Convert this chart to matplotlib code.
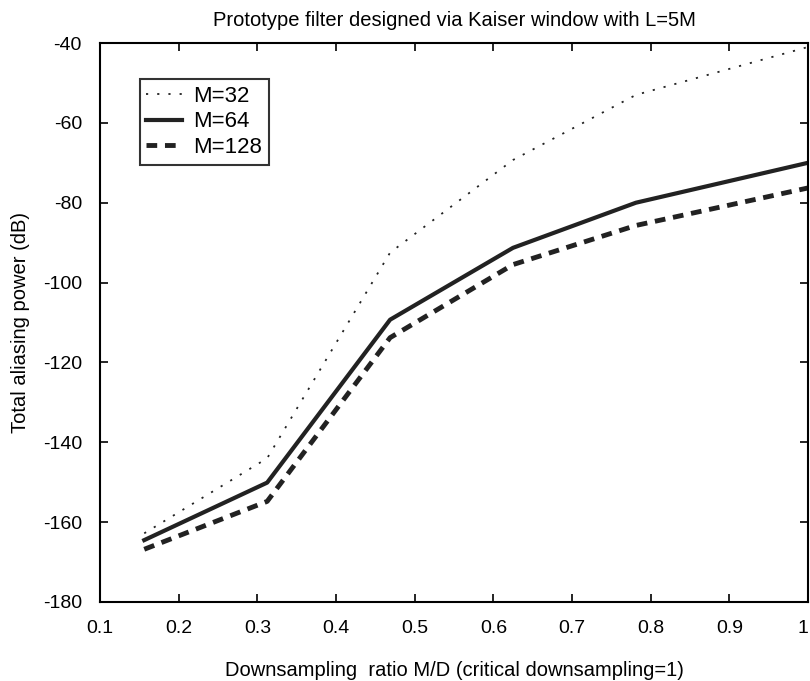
import numpy as np
import matplotlib
matplotlib.use('Agg')
import matplotlib.pyplot as plt

plt.rcParams['font.family'] = ['Liberation Sans', 'DejaVu Sans']
plt.rcParams['axes.unicode_minus'] = False

# M/D ratio
ratio = [0.15625, 0.3125, 0.46875, 0.625, 0.78125, 1.0]
# total aliasing power (dB)
m32 = [-162.8, -144, -92.5, -69.3, -53, -41]
m64 = [-164.5, -150.1, -109.3, -91.3, -80, -70]
m128 = [-166.8, -154.8, -113.8, -95.5, -85.7, -76.3]

xtick_labels = ['0.1', '0.2', '0.3', '0.4', '0.5', '0.6', '0.7', '0.8', '0.9', '1']

fig = plt.figure(figsize=(8.1, 6.81), dpi=100)
ax = fig.add_axes([100/810, 79/681, 708/810, 559/681])

ax.plot(ratio, m32, color='#222222', lw=1.3, ls=(0, (1.2, 5)), label='M=32')
ax.plot(ratio, m64, color='#222222', lw=3, ls='-', label='M=64')
ax.plot(ratio, m128, color='#222222', lw=3.5, ls=(0, (2.2, 1.6)), label='M=128')

ax.set_xlim(0.1, 1)
ax.set_ylim(-180, -40)
ax.set_xticks(np.arange(0.1, 1.01, 0.1))
ax.set_xticklabels(xtick_labels)
ax.set_yticks(np.arange(-180, -39, 20))
ax.tick_params(direction='in', top=True, right=True, length=6, width=1.2, labelsize=14)
ax.tick_params(axis='x', pad=13)
ax.tick_params(axis='y', pad=13)
# last label sits right on the figure edge, keep it inside
ax.get_xticklabels()[-1].set_horizontalalignment('right')
for s in ax.spines.values():
    s.set_linewidth(1.5)

ax.set_title('Prototype filter designed via Kaiser window with L=5M', fontsize=14.5, pad=12)
ax.set_xlabel('Downsampling  ratio M/D (critical downsampling=1)', fontsize=14.5, labelpad=17)
ax.set_ylabel('Total aliasing power (dB)', fontsize=14.5, labelpad=9)

leg = ax.legend(loc='upper left', bbox_to_anchor=(0.056, 0.935), fontsize=16, frameon=True,
                fancybox=False, edgecolor='black', borderpad=0.3, labelspacing=0.2,
                handlelength=1.6, handletextpad=0.5, borderaxespad=0)
leg.get_frame().set_linewidth(1.5)

fig.savefig('out.png', dpi=100)
